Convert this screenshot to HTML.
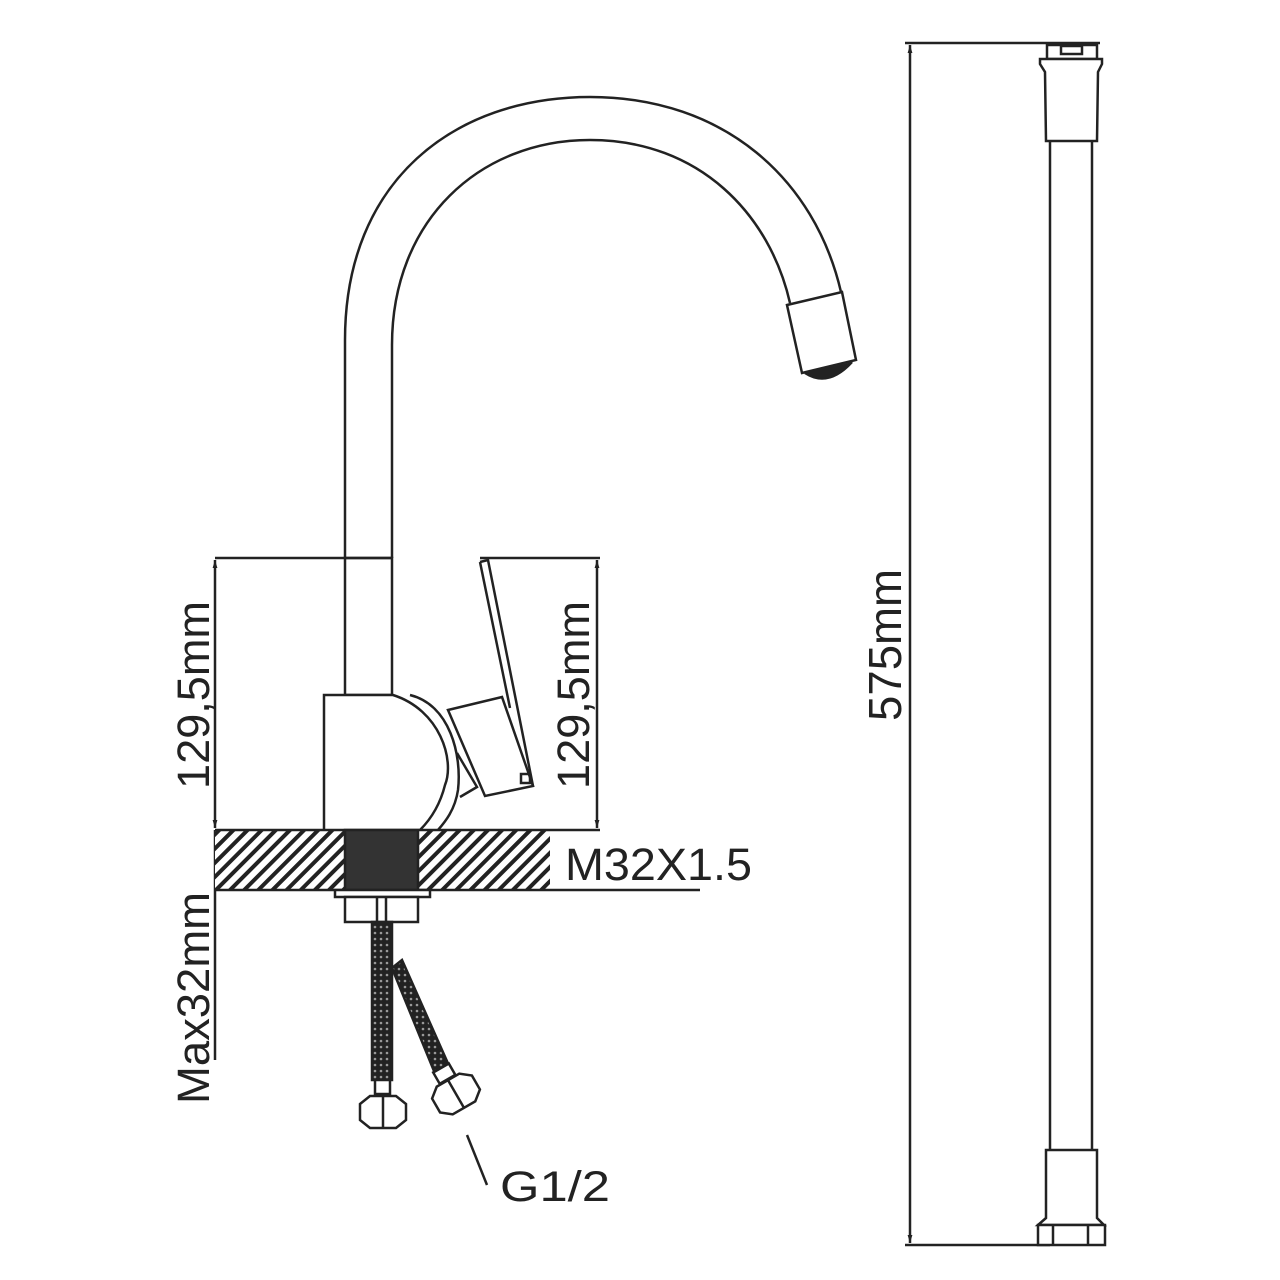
<!DOCTYPE html>
<html><head><meta charset="utf-8"><style>
html,body{margin:0;padding:0;background:#fff}
svg{display:block}
text{font-family:"Liberation Sans",sans-serif;fill:#222}
</style></head><body>
<svg width="1280" height="1280" viewBox="0 0 1280 1280" xmlns="http://www.w3.org/2000/svg">
<defs>
<pattern id="h" width="10" height="10" patternUnits="userSpaceOnUse" patternTransform="rotate(45)">
<rect width="10" height="10" fill="#fff"/><rect width="4" height="10" fill="#222"/>
</pattern>
<pattern id="d" width="6" height="6" patternUnits="userSpaceOnUse">
<rect width="6" height="6" fill="#222"/><circle cx="3" cy="3" r="1.3" fill="#999"/>
</pattern>
<marker id="a" viewBox="0 0 10 10" refX="10" refY="5" markerWidth="8" markerHeight="12" orient="auto-start-reverse" markerUnits="userSpaceOnUse"><path d="M0,2 L10,5 L0,8 Z" fill="#222"/></marker>
</defs>
<g fill="none" stroke="#222" stroke-width="2.5">
<!-- spout -->
<path d="M345,558 L345,340 C345,180 455,97 590,97 C725,97 815,180 841,292"/>
<path d="M392,558 L392,345 C392,220 480,140 590,140 C700,140 770,215 790,303"/>
<polygon points="787,305 842,292 856,360 802,373" fill="#fff"/>
<path d="M805,373 Q828,388 852,362" fill="#222"/>
<!-- pipe -->
<rect x="345" y="558" width="47" height="137" fill="#fff"/>
<!-- body -->
<path d="M324,830 L324,695 L393,695 C440,710 455,760 445,785 C440,805 430,820 420,830" fill="#fff"/>
<path d="M410,695 C450,705 462,755 458,790 C455,810 445,822 438,830"/>
<!-- handle -->
<polygon points="448,710 502,697 533,786 485,796" fill="#fff"/>
<path d="M457,753 L477,787 L460,797"/>
<path d="M480,562 L510,708"/>
<path d="M480,562 L488,560 L533,786"/>
<rect x="521" y="774" width="9" height="9"/>
<!-- dimension lines -->
<line x1="215" y1="558" x2="392" y2="558"/>
<line x1="480" y1="558" x2="600" y2="558"/>
<line x1="215" y1="560" x2="215" y2="828" marker-start="url(#a)" marker-end="url(#a)"/>
<line x1="597" y1="560" x2="597" y2="828" marker-start="url(#a)" marker-end="url(#a)"/>
<line x1="215" y1="830" x2="215" y2="1060"/>
<line x1="910" y1="45" x2="910" y2="1243" marker-start="url(#a)" marker-end="url(#a)"/>
<line x1="905" y1="43" x2="1100" y2="43"/>
<line x1="905" y1="1245" x2="1050" y2="1245"/>
<!-- counter -->
<rect x="215" y="830" width="335" height="60" fill="url(#h)" stroke="none"/>
<line x1="215" y1="830" x2="600" y2="830"/>
<line x1="215" y1="890" x2="700" y2="890"/>
<rect x="345" y="830" width="73" height="60" fill="#333"/>
<rect x="335" y="890" width="95" height="7" fill="#fff"/>
<rect x="345" y="897" width="73" height="25" fill="#fff"/>
<line x1="377" y1="897" x2="377" y2="922"/><line x1="386" y1="897" x2="386" y2="922"/>
<!-- hoses -->
<polygon points="392,968 402,960 450,1068 436,1076" fill="url(#d)"/>
<rect x="372" y="922" width="20" height="158" fill="url(#d)"/>
<rect x="375" y="1080" width="15" height="14" fill="#fff"/>
<polygon points="360,1104 370,1096 396,1096 406,1104 406,1120 396,1128 370,1128 360,1120" fill="#fff"/>
<line x1="383" y1="1096" x2="383" y2="1128"/>
<g transform="translate(456,1094) rotate(-30)">
<rect x="-9" y="-30" width="18" height="13" fill="#fff"/>
<polygon points="-23,-8 -13,-16 13,-16 23,-8 23,8 13,16 -13,16 -23,8" fill="#fff"/>
<line x1="0" y1="-16" x2="0" y2="16"/>
</g>
<line x1="467" y1="1135" x2="487" y2="1185"/>
<!-- right hose -->
<line x1="1050" y1="140" x2="1050" y2="1152"/>
<line x1="1092" y1="140" x2="1092" y2="1152"/>
<rect x="1047" y="45" width="50" height="14" fill="#fff"/>
<rect x="1061" y="46" width="21" height="8"/>
<path d="M1040,59 L1102,59 L1102,64 L1098,72 L1097,141 L1046,141 L1045,72 L1040,64 Z" fill="#fff"/>
<path d="M1046,1150 L1097,1150 L1097,1218 L1104,1225 L1038,1225 L1046,1218 Z" fill="#fff"/>
<rect x="1038" y="1225" width="67" height="20" fill="#fff"/>
<line x1="1053" y1="1225" x2="1053" y2="1245"/><line x1="1088" y1="1225" x2="1088" y2="1245"/>
</g>
<!-- text -->
<text transform="translate(209,695) rotate(-90)" font-size="45" text-anchor="middle" textLength="188" lengthAdjust="spacingAndGlyphs">129,5mm</text>
<text transform="translate(589,695) rotate(-90)" font-size="45" text-anchor="middle" textLength="188" lengthAdjust="spacingAndGlyphs">129,5mm</text>
<text transform="translate(209,998) rotate(-90)" font-size="45" text-anchor="middle" textLength="212" lengthAdjust="spacingAndGlyphs">Max32mm</text>
<text transform="translate(901,645) rotate(-90)" font-size="46" text-anchor="middle" textLength="152" lengthAdjust="spacingAndGlyphs">575mm</text>
<text x="565" y="880" font-size="45" textLength="187" lengthAdjust="spacingAndGlyphs">M32X1.5</text>
<text x="500" y="1201" font-size="43" textLength="110" lengthAdjust="spacingAndGlyphs">G1/2</text>
</svg>
</body></html>
